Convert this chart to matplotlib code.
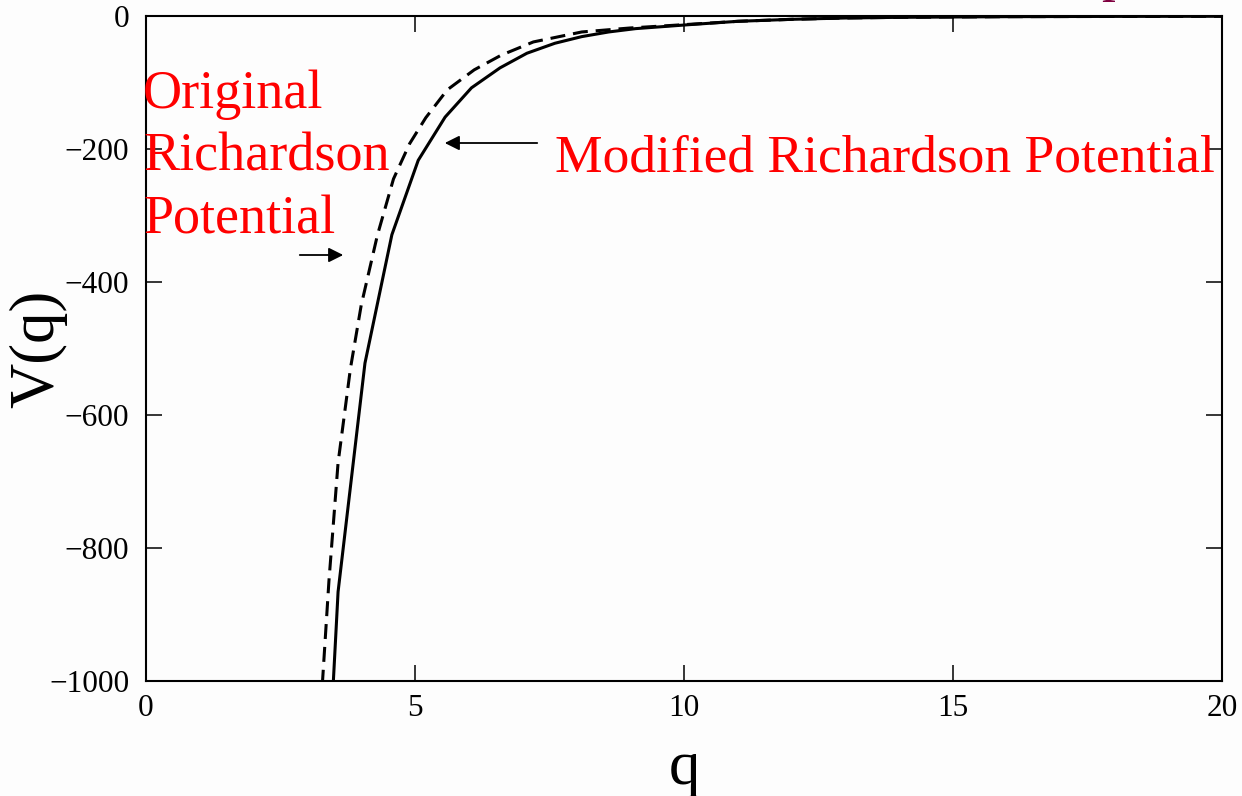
import matplotlib
matplotlib.use("Agg")
import matplotlib.pyplot as plt

plt.rcParams['font.family'] = ['Liberation Serif', 'DejaVu Serif']

# modified Richardson potential (solid)
q_mod = [3.45, 3.57, 4.07, 4.57, 5.06, 5.56, 6.05, 6.58, 7.08, 7.60, 8.10, 8.60, 9.10,
         9.60, 10.1, 11.0, 12.0, 13.0, 14.0, 16.0, 18.0, 20.0]
v_mod = [-1050, -866, -522, -329, -217, -152, -108, -78, -56, -41, -31, -24, -19,
         -16, -13, -8, -5, -3, -2, -1, -0.6, -0.4]

# original Richardson potential (dashed)
q_orig = [3.25, 3.40, 3.57, 3.80, 4.00, 4.30, 4.60, 4.90, 5.20, 5.60, 6.10, 6.60,
          7.20, 8.10, 9.00, 10.0, 11.0, 12.0, 13.0, 14.0, 16.0, 20.0]
v_orig = [-1040, -850, -672, -530, -435, -330, -245, -192, -153, -111, -81, -59,
          -39, -24, -18, -13, -8, -5, -3, -2, -1, -0.4]

xticks = [0, 5, 10, 15, 20]
yticks = [-1000, -800, -600, -400, -200, 0]

fig = plt.figure(figsize=(12.42, 7.96), dpi=100, facecolor='#fdfdfd')
ax = fig.add_axes([146/1242, 1 - 681/796, (1222-146)/1242, (681-16)/796])
ax.set_facecolor('#fdfdfd')

ax.plot(q_mod, v_mod, color='black', lw=2.2, solid_joinstyle='miter')
ax.plot(q_orig, v_orig, color='black', lw=2.2, linestyle=(0, (4.9, 2.6)))

ax.set_xlim(0, 20)
ax.set_ylim(-1000, 0)
ax.set_xticks(xticks)
ax.set_yticks(yticks)
ax.tick_params(direction='in', length=11.5, width=1.1, labelsize=22.5,
               top=True, right=True)
ax.tick_params(axis='x', pad=9)
ax.tick_params(axis='y', pad=12)
for s in ax.spines.values():
    s.set_linewidth(1.5)

ax.set_xlabel('q', fontsize=45)
ax.set_ylabel('V(q)', fontsize=45)
ax.xaxis.set_label_coords(0.5, (681 - 740) / 665)
ax.yaxis.set_label_coords((67 - 146) / 1076, 0.5)

# red annotations
for i, line in enumerate(['Original', 'Richardson', 'Potential']):
    ax.text(143/1242, 1 - (108 + 62.5*i)/796, line, transform=fig.transFigure,
            color='red', fontsize=39, va='baseline', ha='left')
ax.text(555/1242, 1 - 172/796, 'Modified Richardson Potential', transform=fig.transFigure,
        color='red', fontsize=38.5, va='baseline', ha='left')

ax.annotate('', xy=(346/1242, 1 - 255/796), xytext=(297/1242, 1 - 255/796),
            xycoords='figure fraction', textcoords='figure fraction',
            arrowprops=dict(arrowstyle='-|>', color='black', lw=1.3, mutation_scale=22))
ax.annotate('', xy=(442/1242, 1 - 143/796), xytext=(540/1242, 1 - 143/796),
            xycoords='figure fraction', textcoords='figure fraction',
            arrowprops=dict(arrowstyle='-|>', color='black', lw=1.3, mutation_scale=22))

# cut-off glyph at the top edge
fig.text(1101/1242, 1 + 10/796, 'p', color='#800040', fontsize=40, va='baseline')

fig.savefig('out.png', dpi=100, facecolor=fig.get_facecolor())
